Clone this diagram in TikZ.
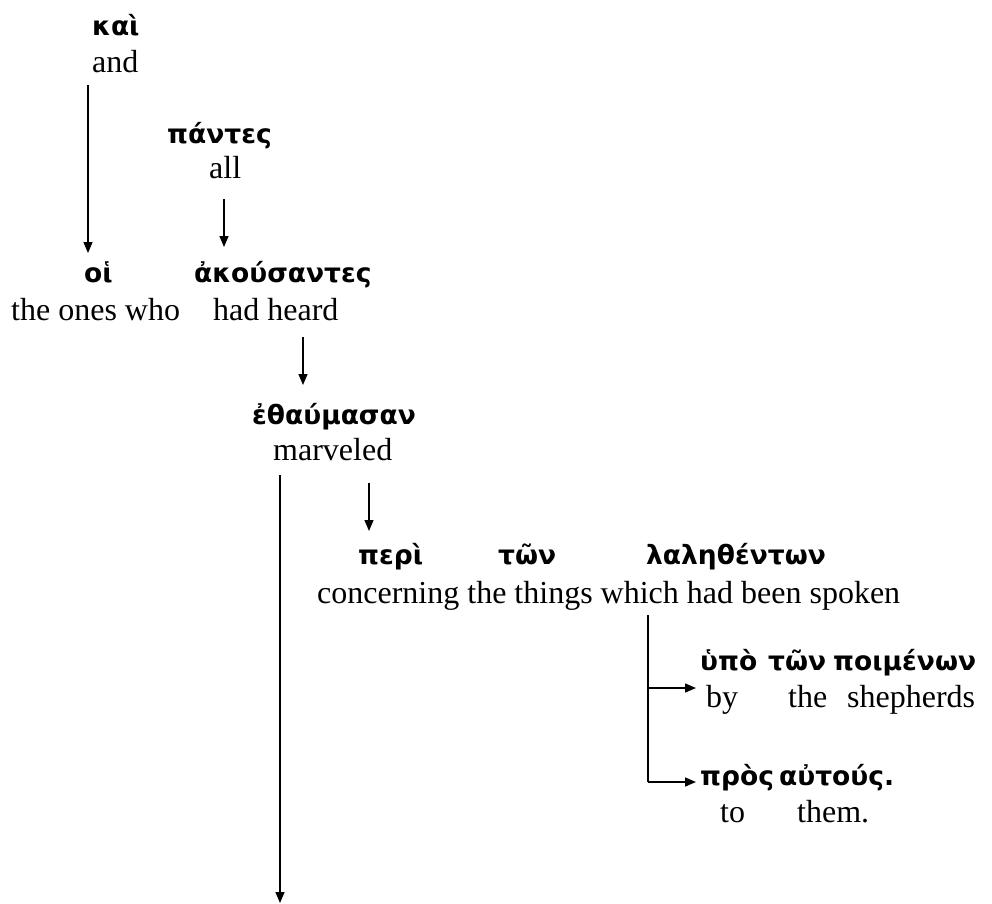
\documentclass[tikz,border=0pt]{standalone}
\usepackage{fontspec}
\setmainfont{Liberation Serif}
\newfontfamily\gk{DejaVu Sans}
\usetikzlibrary{arrows.meta}
\begin{document}
\begin{tikzpicture}[x=1pt,y=-1pt,
  en/.style={font=\fontsize{32}{36}\selectfont, inner sep=0pt, anchor=base west},
  gr/.style={font=\gk\bfseries\fontsize{26.5}{30}\selectfont, inner sep=0pt, anchor=base west},
  arr/.style={line width=1.4pt, -{Triangle[length=11pt,width=9pt]}},
  ln/.style={line width=1.4pt}]
\useasboundingbox (0,0) rectangle (992,903);
% row 1
\node[gr] (kai) at (92,35) {καὶ};
\node[en] (and) at (92,72) {and};
\node[gr] (pantes) at (167,143) {πάντες};
\node[en] (all) at (209,178) {all};
% row 2
\node[gr] (hoi) at (84,282) {οἱ};
\node[en] (theones) at (11,320) {the ones who};
\node[gr] (akous) at (194,282) {ἀκούσαντες};
\node[en] (hadheard) at (213,320) {had heard};
% row 3
\node[gr] (ethau) at (252,424) {ἐθαύμασαν};
\node[en] (marv) at (273,460) {marveled};
% row 4
\node[gr] (peri) at (358,564) {περὶ};
\node[gr] (ton) at (498,564) {τῶν};
\node[gr] (lal) at (646,564) {λαληθέντων};
\node[en] (conc) at (317,603) {concerning the things which had been spoken};
% row 5
\node[gr] (hypo) at (700,670) {ὑπὸ};
\node[gr] (ton2) at (768,670) {τῶν};
\node[gr] (poim) at (833,670) {ποιμένων};
\node[en] (by) at (706,707) {by};
\node[en] (the) at (788,707) {the};
\node[en] (shep) at (847,707) {shepherds};
% row 6
\node[gr] (pros) at (700,785) {πρὸς};
\node[gr] (autous) at (779,785) {αὐτούς.};
\node[en] (to) at (720,822) {to};
\node[en] (them) at (797,822) {them.};
% connector ends
\coordinate (a1s) at (88,85);   \coordinate (a1e) at (88,253);
\coordinate (a2s) at (224,199); \coordinate (a2e) at (224,247);
\coordinate (a3s) at (303,337); \coordinate (a3e) at (303,385);
\coordinate (a4s) at (280,475); \coordinate (a4e) at (280,903);
\coordinate (a5s) at (369,483); \coordinate (a5e) at (369,531);
\coordinate (bs) at (648,615);  \coordinate (b1) at (648,688);
\coordinate (b2) at (648,782);
\coordinate (b1e) at (696,688); \coordinate (b2e) at (696,782);
\draw[arr] (a1s) -- (a1e);
\draw[arr] (a2s) -- (a2e);
\draw[arr] (a3s) -- (a3e);
\draw[arr] (a4s) -- (a4e);
\draw[arr] (a5s) -- (a5e);
\draw[ln] (bs) -- (b2);
\draw[arr] (b1) -- (b1e);
\draw[arr] (b2) -- (b2e);
\end{tikzpicture}
\end{document}
